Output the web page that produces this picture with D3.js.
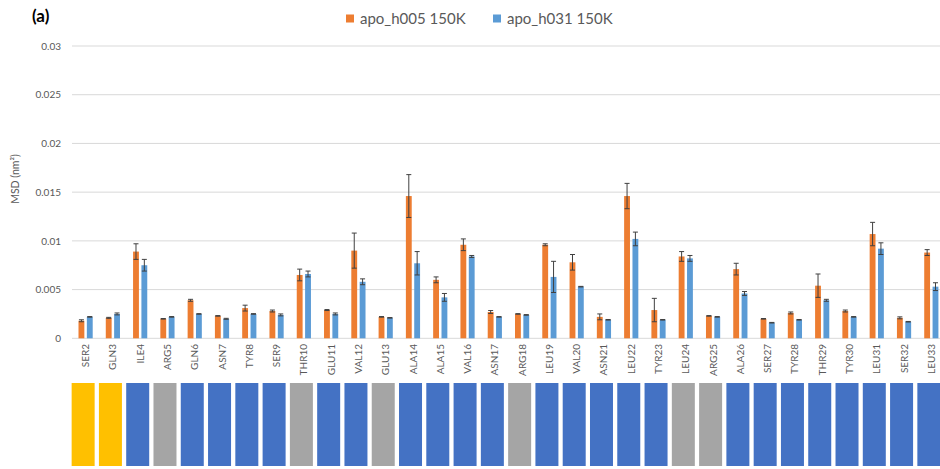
<!DOCTYPE html>
<html>
<head>
<meta charset="utf-8">
<script src="https://cdn.jsdelivr.net/npm/d3@7/dist/d3.min.js"></script>
<style>
  html, body { margin: 0; padding: 0; background: #fff; }
  svg { display: block; font-family: Lato, "Open Sans", sans-serif; }
</style>
</head>
<body>
<svg id="chart" width="940" height="469"></svg>
<script>
// Residues along the peptide
const residues = ["SER2","GLN3","ILE4","ARG5","GLN6","ASN7","TYR8","SER9","THR10","GLU11","VAL12","GLU13","ALA14","ALA15","VAL16","ASN17","ARG18","LEU19","VAL20","ASN21","LEU22","TYR23","LEU24","ARG25","ALA26","SER27","TYR28","THR29","TYR30","LEU31","SER32","LEU33"];

// Mean-square displacement (nm^2) per residue, two simulations
const h005 = [0.0018,0.0021,0.0089,0.0020,0.0039,0.0023,0.0031,0.0028,0.0065,0.0029,0.0090,0.0022,0.0146,0.0060,0.0096,0.0027,0.0025,0.0096,0.0078,0.0022,0.0146,0.0029,0.0084,0.0023,0.0071,0.0020,0.0026,0.0054,0.0028,0.0107,0.0021,0.0088];
const h005Err = [0.0001,0.00005,0.0008,0.00003,0.0001,0.00003,0.0003,0.0001,0.0006,0.00005,0.0018,0.00003,0.0022,0.0003,0.0006,0.00015,0.00003,0.0001,0.0008,0.0003,0.0013,0.0012,0.0005,0.00003,0.0006,0.00003,0.0001,0.0012,0.0001,0.0012,0.0001,0.0003];
const h031 = [0.0022,0.0025,0.0075,0.0022,0.0025,0.0020,0.0025,0.0024,0.0066,0.0025,0.0058,0.0021,0.0077,0.0042,0.0084,0.0022,0.0024,0.0063,0.0053,0.0019,0.0102,0.0019,0.0082,0.0022,0.0046,0.0016,0.0019,0.0039,0.0022,0.0092,0.0017,0.0053];
const h031Err = [0.00003,0.0001,0.0006,0.00003,0.00003,0.00005,0.00003,0.0001,0.0003,0.0001,0.0003,0.00003,0.0012,0.0004,0.0001,0.00003,0.00003,0.0016,0.00003,0.00003,0.0007,0.00003,0.0003,0.00003,0.0002,0.00003,0.00003,0.0001,0.00003,0.0006,0.00003,0.0004];

// Per-residue class shown in the strip below the axis
const residueClass = ["Y","Y","B","G","B","B","B","B","G","B","B","G","B","B","B","B","G","B","B","B","B","B","G","G","B","B","B","B","B","B","B","B"];
const classColors = { Y: "#FFC000", B: "#4472C4", G: "#A5A5A5" };

const seriesNames = ["apo_h005 150K", "apo_h031 150K"];
const seriesColors = ["#ED7D31", "#5B9BD5"];
const yTicks = [0, 0.005, 0.01, 0.015, 0.02, 0.025, 0.03];

const svg = d3.select("#chart");

const x = d3.scaleBand().domain(residues).range([72, 945]).paddingInner(0).paddingOuter(0);
const inner = d3.scaleBand().domain([0, 1]).range([6.5, 20.7]).paddingInner(0.3);
const y = d3.scaleLinear().domain([0, 0.03]).range([338.3, 46]);

// Gridlines
svg.append("g")
  .selectAll("line")
  .data(yTicks)
  .join("line")
  .attr("x1", 72).attr("x2", 945)
  .attr("y1", d => y(d)).attr("y2", d => y(d))
  .attr("stroke", "#D9D9D9").attr("stroke-width", 1);

// Y axis labels
const yAxis = d3.axisLeft(y).tickValues(yTicks).tickSize(0).tickPadding(0)
  .tickFormat(d => d === 0 ? "0" : String(+d.toFixed(3)));
const yg = svg.append("g").attr("transform", "translate(61,0)").call(yAxis);
yg.select(".domain").remove();
yg.selectAll("text").attr("fill", "#595959").style("font-size", "10px").style("font-family", "Lato, sans-serif");

// Y axis title
svg.append("text")
  .attr("transform", "translate(19,179) rotate(-90)")
  .attr("text-anchor", "middle")
  .attr("fill", "#595959")
  .style("font-size", "10.5px")
  .text("MSD (nm²)");

// Bars
const series = [
  { values: h005, errs: h005Err },
  { values: h031, errs: h031Err }
];
series.forEach((s, si) => {
  const g = svg.append("g");
  g.selectAll("rect")
    .data(residues)
    .join("rect")
    .attr("x", r => x(r) + inner(si))
    .attr("width", inner.bandwidth())
    .attr("y", (r, i) => y(s.values[i]))
    .attr("height", (r, i) => y(0) - y(s.values[i]))
    .attr("fill", seriesColors[si]);

  // Error bars
  const eb = svg.append("g").attr("stroke", "#404040").attr("stroke-width", 1);
  residues.forEach((r, i) => {
    const cx = x(r) + inner(si) + inner.bandwidth() / 2;
    const top = y(s.values[i] + s.errs[i]);
    const bot = y(s.values[i] - s.errs[i]);
    eb.append("line").attr("x1", cx).attr("x2", cx).attr("y1", top).attr("y2", bot);
    eb.append("line").attr("x1", cx - 2.5).attr("x2", cx + 2.5).attr("y1", top).attr("y2", top);
    eb.append("line").attr("x1", cx - 2.5).attr("x2", cx + 2.5).attr("y1", bot).attr("y2", bot);
  });
});

// X axis labels (rotated)
const xAxis = d3.axisBottom(x).tickSize(0).tickPadding(0);
const xg = svg.append("g").attr("transform", "translate(0,344)").call(xAxis);
xg.select(".domain").remove();
xg.selectAll("text")
  .attr("fill", "#595959")
  .style("font-size", "10px")
  .style("font-family", "Lato, sans-serif")
  .attr("text-anchor", "end")
  .attr("dy", "0.35em")
  .attr("y", 0)
  .attr("transform", "rotate(-90)");

// Residue class strip
svg.append("g")
  .selectAll("rect")
  .data(residues)
  .join("rect")
  .attr("x", r => x(r) + x.bandwidth() / 2 - 14)
  .attr("width", 23)
  .attr("y", 383)
  .attr("height", 83)
  .attr("fill", (r, i) => classColors[residueClass[i]]);

// Legend
const legendPos = [346, 493];
seriesNames.forEach((name, i) => {
  svg.append("rect")
    .attr("x", legendPos[i]).attr("y", 14.5)
    .attr("width", 8).attr("height", 8)
    .attr("fill", seriesColors[i]);
  svg.append("text")
    .attr("x", legendPos[i] + 14).attr("y", 23.5)
    .attr("fill", "#595959")
    .style("font-size", "15px")
    .text(name);
});

// Panel label
svg.append("text")
  .attr("x", 32).attr("y", 22)
  .attr("fill", "#000")
  .style("font-size", "17px")
  .style("font-weight", "bold")
  .text("(a)");
</script>
</body>
</html>
